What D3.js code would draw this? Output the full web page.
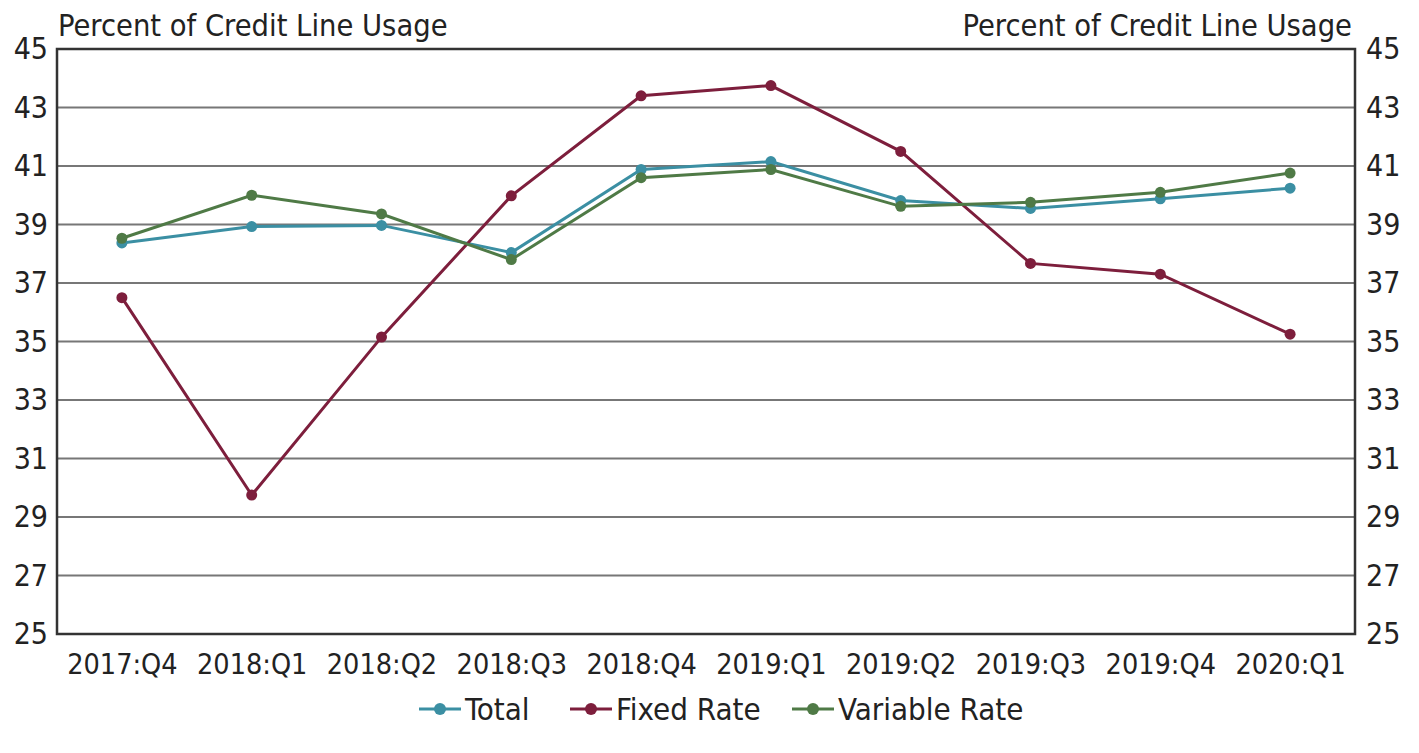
<!DOCTYPE html>
<html><head><meta charset="utf-8">
<script src="https://cdn.jsdelivr.net/npm/d3@7"></script>
<style>body{margin:0;background:#fff}svg{display:block}</style>
</head><body>
<svg id="c" width="1419" height="753"></svg>
<script>
const categories = ["2017:Q4","2018:Q1","2018:Q2","2018:Q3","2018:Q4","2019:Q1","2019:Q2","2019:Q3","2019:Q4","2020:Q1"];
const totalValues = [38.37,38.93,38.97,38.04,40.88,41.15,39.82,39.55,39.88,40.24];
const fixedValues = [36.5,29.75,35.15,39.98,43.4,43.75,41.5,37.67,37.3,35.25];
const variableValues = [38.53,40.0,39.36,37.8,40.6,40.88,39.62,39.76,40.1,40.76];
const yTicks = [25,27,29,31,33,35,37,39,41,43,45];
const seriesNames = ["Total","Fixed Rate","Variable Rate"];
const seriesColors = ["#3b8fa3","#7d1e3c","#4f7a46"];
const axisTitle = "Percent of Credit Line Usage";

const svg = d3.select("#c");
const font = "'DejaVu Sans Condensed', 'DejaVu Sans', sans-serif";
const m = {left:57, right:1355, top:49, bottom:634};
const x = d3.scalePoint().domain(categories).range([m.left, m.right]).padding(0.5);
const y = d3.scaleLinear().domain([25,45]).range([m.bottom, m.top]);

// grid
svg.append("g").selectAll("line").data(yTicks.filter(t=>t>25&&t<45)).join("line")
  .attr("x1", m.left).attr("x2", m.right)
  .attr("y1", d=>y(d)).attr("y2", d=>y(d))
  .attr("stroke", "#777").attr("stroke-width", 2);

// frame
svg.append("rect").attr("x", m.left).attr("y", m.top)
  .attr("width", m.right-m.left).attr("height", m.bottom-m.top)
  .attr("fill","none").attr("stroke","#333").attr("stroke-width",2.5);

// axes labels
const yl = d3.axisLeft(y).tickValues(yTicks).tickSize(0).tickPadding(9);
const yr = d3.axisRight(y).tickValues(yTicks).tickSize(0).tickPadding(11);
const gl = svg.append("g").attr("transform",`translate(${m.left},0)`).call(yl);
const gr = svg.append("g").attr("transform",`translate(${m.right},0)`).call(yr);
[gl,gr].forEach(g=>{g.select(".domain").remove();
  g.selectAll("text").attr("font-family",font).attr("font-size",30).attr("fill","#222");});
const xa = d3.axisBottom(x).tickSize(0).tickPadding(20);
const gx = svg.append("g").attr("transform",`translate(0,${m.bottom})`).call(xa);
gx.select(".domain").remove();
gx.selectAll("text").attr("font-family",font).attr("font-size",28.5).attr("fill","#222");

svg.append("text").attr("x", 58).attr("y", 36).text(axisTitle)
  .attr("font-family",font).attr("font-size",30.5).attr("fill","#222");
svg.append("text").attr("x", 1352).attr("y", 36).attr("text-anchor","end").text(axisTitle)
  .attr("font-family",font).attr("font-size",30.5).attr("fill","#222");

// series
const data = [totalValues, fixedValues, variableValues];
const line = d3.line().x((d,i)=>x(categories[i])).y(d=>y(d));
data.forEach((vals,k)=>{
  const g = svg.append("g");
  g.append("path").datum(vals).attr("d", line).attr("fill","none")
    .attr("stroke", seriesColors[k]).attr("stroke-width",3);
  g.selectAll("circle").data(vals).join("circle")
    .attr("cx",(d,i)=>x(categories[i])).attr("cy",d=>y(d)).attr("r",5.5)
    .attr("fill", seriesColors[k]);
});

// legend
const legX = [419, 570, 792];
const lg = svg.append("g");
seriesNames.forEach((n,k)=>{
  const gx0 = legX[k], ly = 709;
  lg.append("line").attr("x1",gx0).attr("x2",gx0+42).attr("y1",ly).attr("y2",ly)
    .attr("stroke",seriesColors[k]).attr("stroke-width",3);
  lg.append("circle").attr("cx",gx0+21).attr("cy",ly).attr("r",6).attr("fill",seriesColors[k]);
  lg.append("text").attr("x",gx0+46).attr("y",ly+11).text(n)
    .attr("font-family",font).attr("font-size",31).attr("fill","#222");
});
</script>
</body></html>
